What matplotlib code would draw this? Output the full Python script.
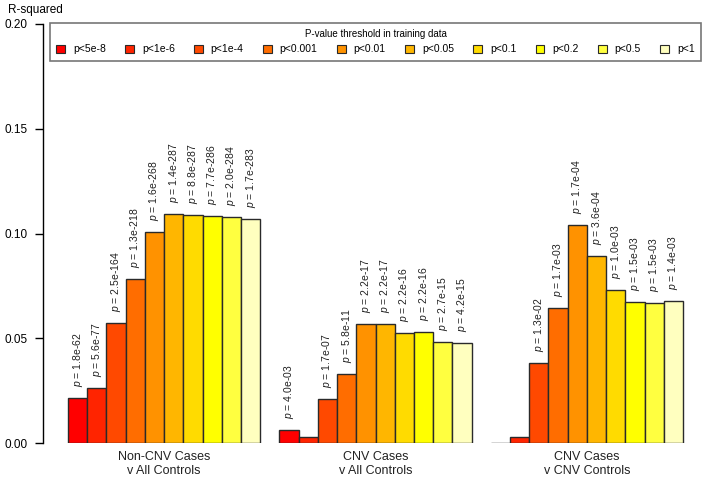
import matplotlib.pyplot as plt
import numpy as np

plt.rcParams['font.family'] = ['Liberation Sans', 'DejaVu Sans']
plt.rcParams['mathtext.fontset'] = 'custom'
plt.rcParams['mathtext.it'] = 'Liberation Sans:italic'
plt.rcParams['mathtext.rm'] = 'Liberation Sans'

# thresholds (legend) and R colours heat.colors(10)
thresholds = ['p<5e-8', 'p<1e-6', 'p<1e-4', 'p<0.001', 'p<0.01',
              'p<0.05', 'p<0.1', 'p<0.2', 'p<0.5', 'p<1']
colors = ['#FF0000', '#FF2400', '#FF4900', '#FF6D00', '#FF9200',
          '#FFB600', '#FFDB00', '#FFFF00', '#FFFF40', '#FFFFBF']

groups = ['Non-CNV Cases\nv All Controls', 'CNV Cases\nv All Controls',
          'CNV Cases\nv CNV Controls']

# R-squared per group, one value per threshold
r2_noncnv_all = [0.0213, 0.0262, 0.0574, 0.0783, 0.1006,
                 0.1092, 0.1088, 0.1083, 0.1077, 0.1071]
r2_cnv_all = [0.0062, 0.0027, 0.0209, 0.0329, 0.0567,
              0.0567, 0.0524, 0.0528, 0.0482, 0.0476]
r2_cnv_cnv = [0.0002, 0.0030, 0.0383, 0.0646, 0.1042,
              0.0894, 0.0730, 0.0673, 0.0670, 0.0678]

# p-values printed above bars ('' = no label)
p_noncnv_all = ['1.8e-62', '5.6e-77', '2.5e-164', '1.3e-218', '1.6e-268',
                '1.4e-287', '8.8e-287', '7.7e-286', '2.0e-284', '1.7e-283']
p_cnv_all = ['4.0e-03', '', '1.7e-07', '5.8e-11', '2.2e-17',
             '2.2e-17', '2.2e-16', '2.2e-16', '2.7e-15', '4.2e-15']
p_cnv_cnv = ['', '', '1.3e-02', '1.7e-03', '1.7e-04',
             '3.6e-04', '1.0e-03', '1.5e-03', '1.5e-03', '1.4e-03']

values = [r2_noncnv_all, r2_cnv_all, r2_cnv_cnv]
pvals = [p_noncnv_all, p_cnv_all, p_cnv_cnv]

fig = plt.figure(figsize=(7.03, 4.80), dpi=100)
ax = fig.add_axes([43 / 703, 1 - 443 / 480, 660 / 703, 419 / 480])

n = len(thresholds)
for g, (vals, ps) in enumerate(zip(values, pvals)):
    # R barplot layout: one empty bar-width before each group
    x = g * (n + 1) + 1 + np.arange(n) + 0.5
    ax.bar(x, vals, width=1.0, color=colors, edgecolor='#2a2a2a',
           linewidth=1.0)
    for xi, v, p in zip(x, vals, ps):
        if p:
            ax.annotate(r'$\it{p}$ = ' + p, (xi, v), xytext=(0, 8),
                        textcoords='offset points', rotation=90,
                        ha='center', va='bottom', fontsize=7.5,
                        color='#222222')

# legend handles
handles = [plt.Rectangle((0, 0), 1, 1, facecolor=c, edgecolor='#2a2a2a',
                         linewidth=0.8) for c in colors]
leg = fig.legend(handles, thresholds, ncol=10, mode='expand',
                 bbox_to_anchor=(50 / 703, 1 - 23 / 480, 651 / 703, 0),
                 loc='upper left', fontsize=7.5,
                 title='P-value threshold in training data',
                 title_fontsize=7, frameon=True, fancybox=False,
                 edgecolor='#555555', handlelength=0.85, handleheight=0.85,
                 handletextpad=0.75, borderaxespad=0, borderpad=0.6,
                 labelspacing=0.5)
leg.get_frame().set_linewidth(1.2)

ax.set_xlim(-0.3, -0.3 + 660 / 19.22)
ax.set_ylim(0, 0.2)
ax.set_yticks([0, 0.05, 0.10, 0.15, 0.20])
ax.set_yticklabels(['0.00', '0.05', '0.10', '0.15', '0.20'], fontsize=8.5)
ax.tick_params(axis='y', length=6, width=1, pad=5, direction='out')

centers = [g * (n + 1) + 1 + n / 2 for g in range(len(groups))]
ax.set_xticks(centers)
ax.set_xticklabels(groups, fontsize=9, color='#222222')
ax.tick_params(axis='x', length=0, pad=6)

for side in ['top', 'right', 'bottom']:
    ax.spines[side].set_visible(False)
ax.spines['left'].set_bounds(0, 0.2)
ax.spines['left'].set_linewidth(1)

fig.text(8 / 703, 1 - 10 / 480, 'R-squared', fontsize=8.5, va='center',
         ha='left')

fig.savefig('out.png', dpi=100)
